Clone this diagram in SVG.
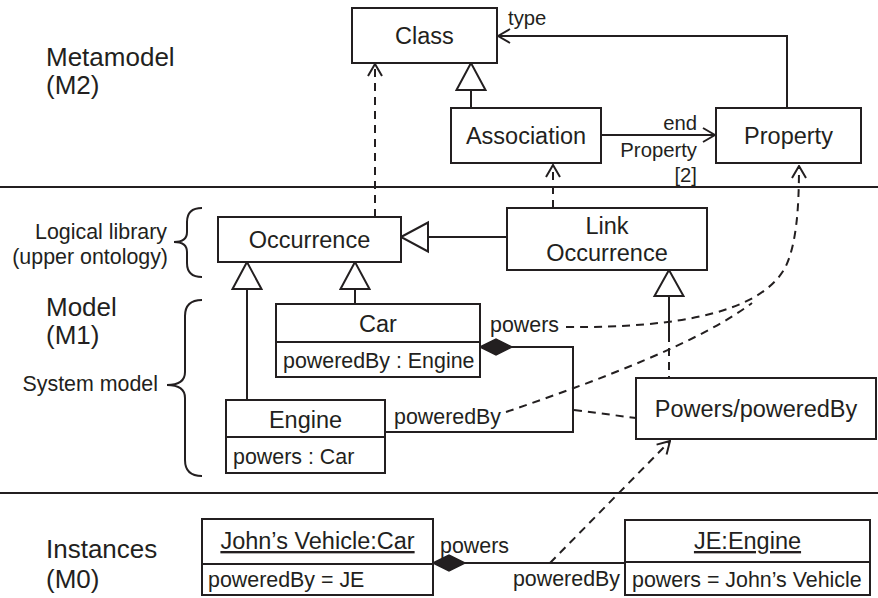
<svg xmlns="http://www.w3.org/2000/svg" width="878" height="598" viewBox="0 0 878 598">
  <style>
    .box { fill: #fff; stroke: #231f20; stroke-width: 2; }
    .ln { fill: none; stroke: #231f20; stroke-width: 2; }
    .dash { fill: none; stroke: #231f20; stroke-width: 2; stroke-dasharray: 8 6; }
    .tri { fill: #fff; stroke: #231f20; stroke-width: 2; }
    .dia { fill: #231f20; stroke: #231f20; stroke-width: 1.5; }
    text { font-family: "Liberation Sans", Arial, sans-serif; fill: #231f20; }
    .nm { font-size: 23.5px; text-anchor: middle; }
    .at { font-size: 21.4px; }
    .lb { font-size: 21.4px; }
    .sm { font-size: 20.3px; }
    .lv { font-size: 26px; }
    .r { text-anchor: end; }
  </style>
  <defs>
    <marker id="open" viewBox="0 0 14 16" refX="13" refY="8" markerWidth="14" markerHeight="16" markerUnits="userSpaceOnUse" orient="auto">
      <path d="M1,1 L13,8 L1,15" fill="none" stroke="#231f20" stroke-width="2"/>
    </marker>
  </defs>

  <!-- level separators -->
  <g id="separators">
    <line class="ln" x1="0" y1="187" x2="878" y2="187"/>
    <line class="ln" x1="0" y1="493" x2="878" y2="493"/>
  </g>

  <!-- level labels and braces -->
  <g id="levels">
    <text class="lv" x="46" y="66">Metamodel</text>
    <text class="lv" x="46" y="94">(M2)</text>
    <text class="lv" x="46" y="316">Model</text>
    <text class="lv" x="46" y="344">(M1)</text>
    <text class="lv" x="46" y="558">Instances</text>
    <text class="lv" x="46" y="588">(M0)</text>
    <text class="lb r" x="167" y="239">Logical library</text>
    <text class="lb r" x="168" y="264">(upper ontology)</text>
    <text class="lb r" x="158" y="391">System model</text>
    <path class="ln" d="M202,208 Q187,208 187,222 L187,232 Q187,242 174,242 Q187,242 187,252 L187,263 Q187,277 202,277"/>
    <path class="ln" d="M202,300 Q185,300 185,316 L185,372 Q185,385 167,385 Q185,385 185,398 L185,460 Q185,476 202,476"/>
  </g>

  <!-- connectors -->
  <g id="connectors">
    <!-- Property type -> Class -->
    <polyline class="ln" points="787,108 787,36 498,36" marker-end="url(#open)"/>
    <!-- Association generalizes Class -->
    <line class="ln" x1="471" y1="108" x2="471" y2="90"/>
    <polygon class="tri" points="471,63 456.5,90 485.5,90"/>
    <!-- Association end -> Property -->
    <line class="ln" x1="601" y1="135" x2="715" y2="135" marker-end="url(#open)"/>
    <!-- instance-of links to metamodel -->
    <line class="dash" x1="375" y1="217" x2="375" y2="64" marker-end="url(#open)"/>
    <line class="dash" x1="553" y1="208" x2="553" y2="165" marker-end="url(#open)"/>
    <path class="dash" d="M566,327 C680,328 760,312 785,268 C797,244 799,205 799,166" marker-end="url(#open)"/>
    <path class="dash" d="M506,412 C600,380 700,342 752,303"/>
    <!-- Link Occurrence generalizes Occurrence -->
    <line class="ln" x1="507" y1="237" x2="428" y2="237"/>
    <polygon class="tri" points="401,237 428,222.5 428,251.5"/>
    <!-- Car and Engine generalize Occurrence -->
    <line class="ln" x1="355" y1="304" x2="355" y2="289"/>
    <polygon class="tri" points="355,262 340.5,289 369.5,289"/>
    <line class="ln" x1="247" y1="400" x2="247" y2="289"/>
    <polygon class="tri" points="247,262 232.5,289 261.5,289"/>
    <!-- Powers/poweredBy generalizes Link Occurrence -->
    <line class="ln" x1="669" y1="296" x2="669" y2="334"/>
    <line class="dash" x1="669" y1="334" x2="669" y2="378"/>
    <polygon class="tri" points="669,270 654.5,296 683.5,296"/>
    <!-- Car/Engine composition -->
    <polyline class="ln" points="512,347 573,347 573,432 385,432"/>
    <polygon class="dia" points="480,347 496,339 512,347 496,355"/>
    <text class="lb" x="490" y="332">powers</text>
    <text class="lb" x="394" y="424">poweredBy</text>
    <line class="dash" x1="574" y1="410" x2="636" y2="418"/>
    <!-- instance link -->
    <line class="ln" x1="465" y1="563" x2="625" y2="563"/>
    <polygon class="dia" points="433,563 449,555 465,563 449,571"/>
    <text class="lb" x="440" y="553">powers</text>
    <text class="lb r" x="620" y="586">poweredBy</text>
    <line class="dash" x1="550" y1="563" x2="670" y2="441" marker-end="url(#open)"/>
    <!-- association end labels -->
    <text class="sm" x="508" y="25">type</text>
    <text class="sm r" x="697" y="130">end</text>
    <text class="sm r" x="697" y="157">Property</text>
    <text class="sm r" x="697" y="182">[2]</text>
  </g>

  <g id="class">
    <rect class="box" x="352" y="8" width="145" height="55"/>
    <text class="nm" x="424.5" y="44">Class</text>
  </g>
  <g id="association">
    <rect class="box" x="451" y="108" width="150" height="55"/>
    <text class="nm" x="526" y="144">Association</text>
  </g>
  <g id="property">
    <rect class="box" x="716" y="108" width="145" height="55"/>
    <text class="nm" x="788.5" y="144">Property</text>
  </g>
  <g id="occurrence">
    <rect class="box" x="218" y="217" width="183" height="45"/>
    <text class="nm" x="309.5" y="248">Occurrence</text>
  </g>
  <g id="link-occurrence">
    <rect class="box" x="507" y="208" width="200" height="62"/>
    <text class="nm" x="607" y="234">Link</text>
    <text class="nm" x="607" y="261">Occurrence</text>
  </g>
  <g id="car">
    <rect class="box" x="276" y="304" width="204" height="73"/>
    <line class="ln" x1="276" y1="342" x2="480" y2="342"/>
    <text class="nm" x="378" y="332">Car</text>
    <text class="at" x="283" y="368">poweredBy : Engine</text>
  </g>
  <g id="engine">
    <rect class="box" x="226" y="400" width="159" height="73"/>
    <line class="ln" x1="226" y1="437" x2="385" y2="437"/>
    <text class="nm" x="305.5" y="428">Engine</text>
    <text class="at" x="233" y="464">powers : Car</text>
  </g>
  <g id="powers-poweredby">
    <rect class="box" x="636" y="378" width="240" height="61"/>
    <text class="nm" x="756" y="417">Powers/poweredBy</text>
  </g>
  <g id="johns-vehicle">
    <rect class="box" x="202" y="519" width="231" height="76"/>
    <line class="ln" x1="202" y1="564" x2="433" y2="564"/>
    <text class="nm" x="317.5" y="549" text-decoration="underline">John’s Vehicle:Car</text>
    <text class="at" x="208" y="587">poweredBy = JE</text>
  </g>
  <g id="je-engine">
    <rect class="box" x="625" y="520" width="245" height="75"/>
    <line class="ln" x1="625" y1="562" x2="870" y2="562"/>
    <text class="nm" x="747.5" y="549" text-decoration="underline">JE:Engine</text>
    <text class="at" x="632" y="587">powers = John’s Vehicle</text>
  </g>
</svg>
